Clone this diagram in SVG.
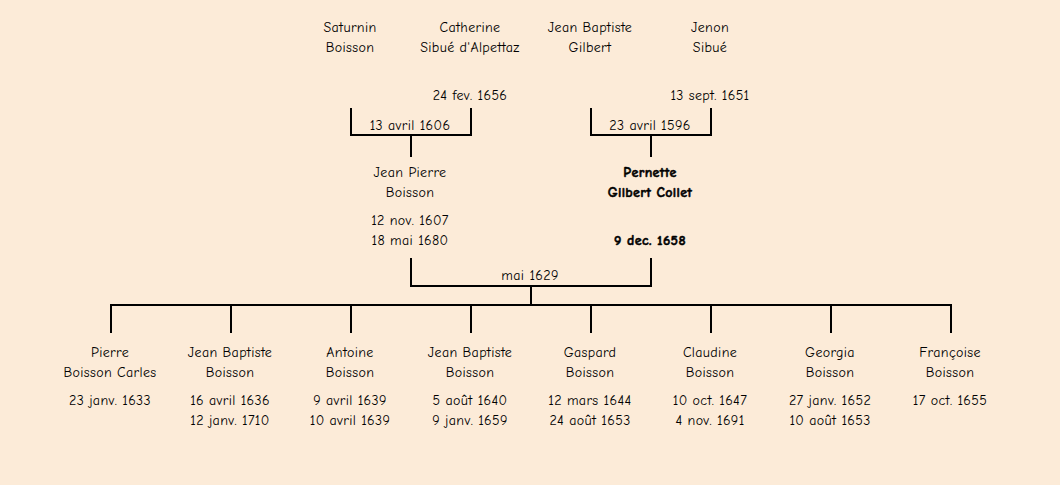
<svg xmlns="http://www.w3.org/2000/svg" width="1060" height="485" viewBox="0 0 1060 485">
<style>
text{font-family:"Comic Sans MS","Comic Neue","Liberation Sans",sans-serif;font-size:14px;letter-spacing:0.35px;fill:#000;text-anchor:middle}
.b{font-weight:bold;stroke:#000;stroke-width:0.5px}
.ln{stroke:#000;stroke-width:2;fill:none}
</style>
<rect width="1060" height="485" fill="#FCEBD8"/>
<g id="connectors" class="ln">
<path d="M351,108V135H471V108M411,135V157"/>
<path d="M591,108V135H711V108M651,135V157"/>
<path d="M411,258V286H651V258M531,286V305"/>
<path d="M111,333V305H951V333M231,305V333M351,305V333M471,305V333M591,305V333M711,305V333M831,305V333"/>
</g>
<g id="labels">
<text x="410" y="130">13 avril 1606</text>
<text x="650" y="130">23 avril 1596</text>
<text x="530" y="280">mai 1629</text>
</g>
<g id="saturnin"><text x="350" y="32">Saturnin</text><text x="350" y="52">Boisson</text></g>
<g id="catherine"><text x="470" y="32">Catherine</text><text x="470" y="52">Sibué d'Alpettaz</text><text x="470" y="100">24 fev. 1656</text></g>
<g id="jbgilbert"><text x="590" y="32">Jean Baptiste</text><text x="590" y="52">Gilbert</text></g>
<g id="jenon"><text x="710" y="32">Jenon</text><text x="710" y="52">Sibué</text><text x="710" y="100">13 sept. 1651</text></g>
<g id="jeanpierre"><text x="410" y="177">Jean Pierre</text><text x="410" y="197">Boisson</text><text x="410" y="225">12 nov. 1607</text><text x="410" y="245">18 mai 1680</text></g>
<g id="pernette"><text class="b" x="650" y="177">Pernette</text><text class="b" x="650" y="197">Gilbert Collet</text><text class="b" x="650" y="245">9 dec. 1658</text></g>
<g id="pierre"><text x="110" y="357">Pierre</text><text x="110" y="377">Boisson Carles</text><text x="110" y="405">23 janv. 1633</text></g>
<g id="jb1"><text x="230" y="357">Jean Baptiste</text><text x="230" y="377">Boisson</text><text x="230" y="405">16 avril 1636</text><text x="230" y="425">12 janv. 1710</text></g>
<g id="antoine"><text x="350" y="357">Antoine</text><text x="350" y="377">Boisson</text><text x="350" y="405">9 avril 1639</text><text x="350" y="425">10 avril 1639</text></g>
<g id="jb2"><text x="470" y="357">Jean Baptiste</text><text x="470" y="377">Boisson</text><text x="470" y="405">5 août 1640</text><text x="470" y="425">9 janv. 1659</text></g>
<g id="gaspard"><text x="590" y="357">Gaspard</text><text x="590" y="377">Boisson</text><text x="590" y="405">12 mars 1644</text><text x="590" y="425">24 août 1653</text></g>
<g id="claudine"><text x="710" y="357">Claudine</text><text x="710" y="377">Boisson</text><text x="710" y="405">10 oct. 1647</text><text x="710" y="425">4 nov. 1691</text></g>
<g id="georgia"><text x="830" y="357">Georgia</text><text x="830" y="377">Boisson</text><text x="830" y="405">27 janv. 1652</text><text x="830" y="425">10 août 1653</text></g>
<g id="francoise"><text x="950" y="357">Françoise</text><text x="950" y="377">Boisson</text><text x="950" y="405">17 oct. 1655</text></g>
</svg>
